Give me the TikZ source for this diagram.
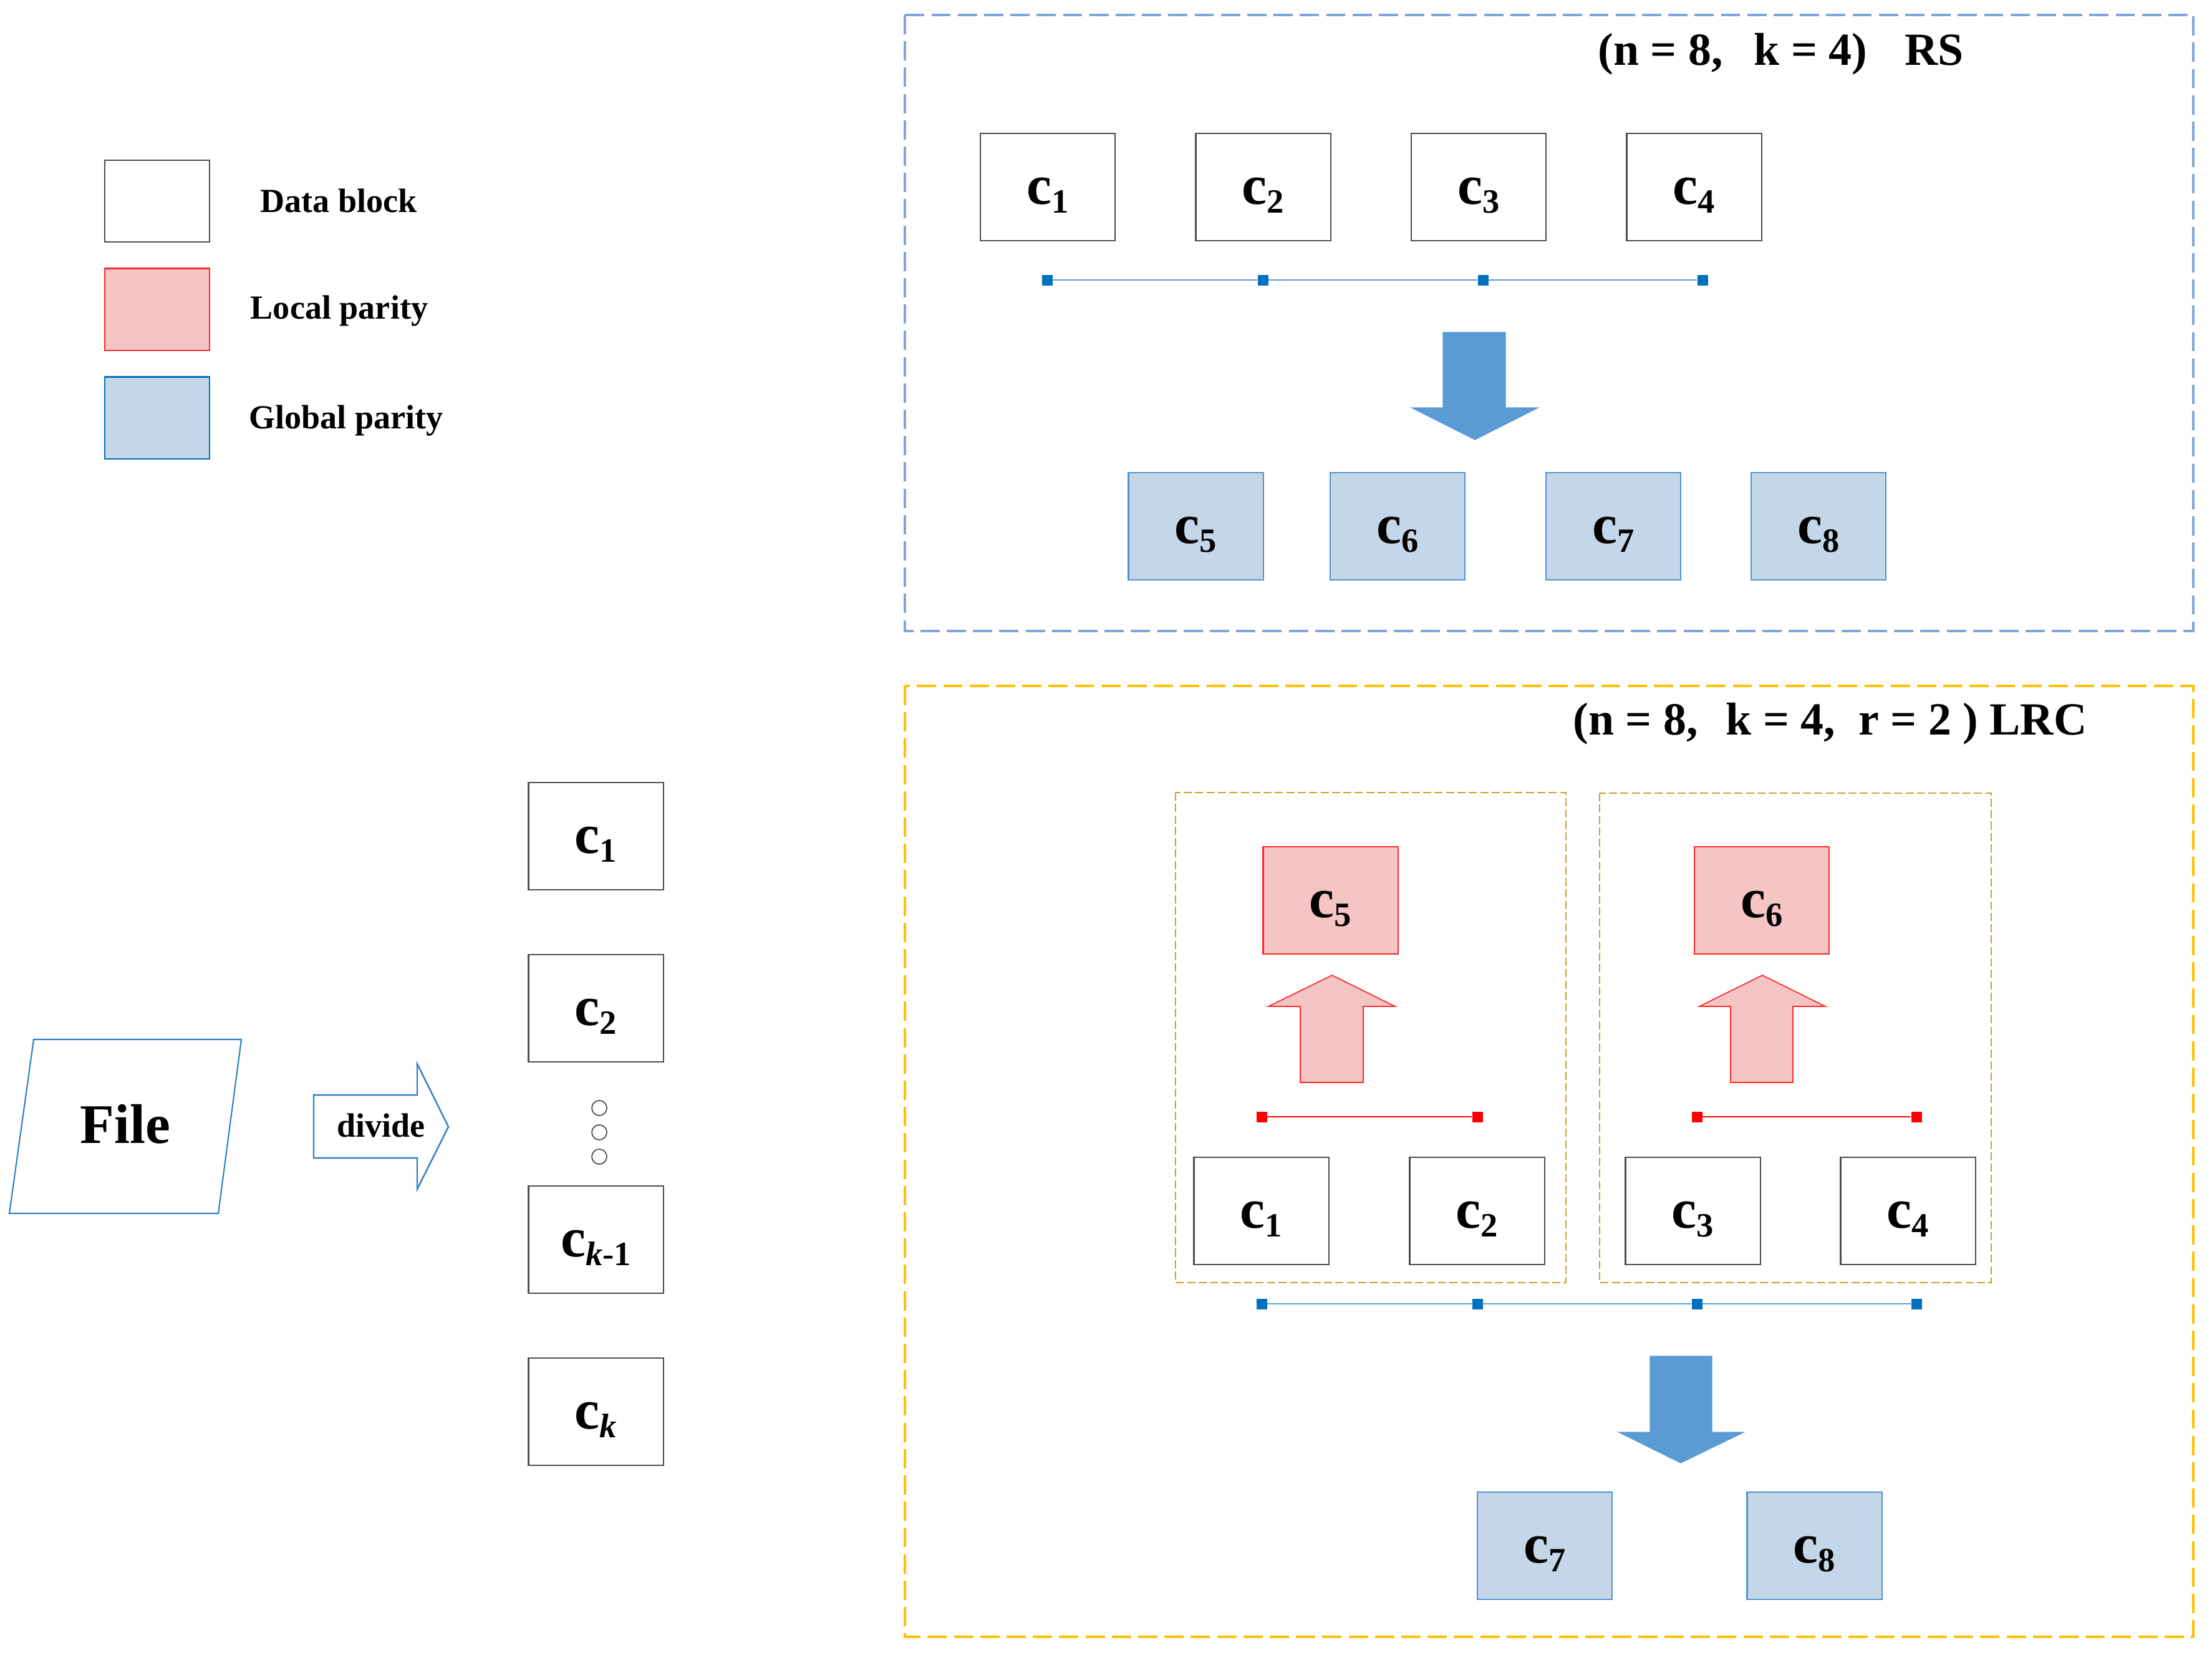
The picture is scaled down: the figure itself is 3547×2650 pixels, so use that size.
\documentclass[tikz,border=0pt]{standalone}
\usepackage{fontspec}
\setmainfont{Liberation Serif}
\definecolor{dgray}{HTML}{4D4D4D}
\definecolor{gfill}{HTML}{C3D7E8}
\definecolor{gbord}{HTML}{4F93D2}
\definecolor{lfill}{HTML}{F5C5C6}
\definecolor{lbord}{HTML}{FF2A2A}
\definecolor{barrow}{HTML}{5B9BD5}
\definecolor{sqblue}{HTML}{0070C0}
\definecolor{rsdash}{HTML}{7EA6D8}
\definecolor{lrcdash}{HTML}{FFC000}
\definecolor{indash}{HTML}{C9A227}
\definecolor{fileblue}{HTML}{2E7FC8}
\newcommand\csub[1]{c\raisebox{-0.145em}{\fontsize{15.5}{16}\selectfont #1}}
\begin{document}
\begin{tikzpicture}[x=0.01cm,y=-0.01cm,
  blk/.style={font=\fontsize{25.6}{30}\selectfont\bfseries, minimum width=2.16cm, minimum height=1.72cm,
    inner sep=0pt, text height=19.7pt, text depth=3.8pt, line width=0.6pt},
  dblk/.style={blk, draw=dgray, fill=white},
  gblk/.style={blk, draw=gbord, fill=gfill},
  lblk/.style={blk, draw=lbord, fill=lfill},
  legbox/.style={minimum width=1.68cm, minimum height=1.31cm, inner sep=0pt, line width=0.6pt},
  legtxt/.style={font=\fontsize{15.4}{18}\selectfont\bfseries, anchor=base, inner sep=0pt},
  ttl/.style={font=\fontsize{21}{25}\selectfont\bfseries, anchor=base west, inner sep=0pt},
  bsq/.style={fill=sqblue, minimum size=0.17cm, inner sep=0pt},
  rsq/.style={fill=red, minimum size=0.17cm, inner sep=0pt},
  bline/.style={draw=barrow, line width=0.6pt},
  rline/.style={draw=red, line width=0.6pt},
  outerdash/.style={line width=1.1pt, dash pattern=on 8.8pt off 3.2pt},
  innerdash/.style={draw=indash, line width=0.6pt, dash pattern=on 3.7pt off 1.5pt},
  bigdown/.style={fill=barrow, draw=barrow, line width=0.4pt},
  pinkup/.style={fill=lfill, draw=lbord, line width=0.5pt},
  dot/.style={circle, draw=dgray, line width=0.5pt, minimum size=0.24cm, inner sep=0pt}
]
\useasboundingbox (0,0) rectangle (3547,2650);

% ---------- Legend ----------
\node[legbox, draw=dgray, fill=white] (legD) at (252,322.5) {};
\node[legbox, draw=lbord, fill=lfill] (legL) at (252,496) {};
\node[legbox, draw=sqblue, fill=gfill] (legG) at (252,670) {};
\node[legtxt] (legDt) at (543,340) {Data block};
\node[legtxt] (legLt) at (544,511) {Local parity};
\node[legtxt] (legGt) at (555,687) {Global parity};

% ---------- File and divide ----------
\draw[draw=fileblue, line width=0.6pt, fill=white] (54,1667) -- (387,1667) -- (350,1946) -- (15,1946) -- cycle;
\node[font=\fontsize{25.5}{30}\selectfont\bfseries, anchor=base, inner sep=0pt] (file) at (201,1833) {File};
\draw[draw=fileblue, line width=0.7pt, fill=white] (503,1756) -- (669,1756) -- (669,1706) -- (719,1807)
  -- (669,1907) -- (669,1857) -- (503,1857) -- cycle;
\node[legtxt] (divide) at (611,1823) {divide};

\node[dblk] (L1) at (955.5,1341) {\csub{1}};
\node[dblk] (L2) at (955.5,1617) {\csub{2}};
\node[dot] (d1) at (961,1777) {};
\node[dot] (d2) at (961,1816) {};
\node[dot] (d3) at (961,1855) {};
\node[dblk] (Lk1) at (955.5,1988) {\csub{\textit{k}-1}};
\node[dblk] (Lk) at (955.5,2264) {\csub{\textit{k}}};

% ---------- RS ----------
\draw[outerdash, draw=rsdash] (1451,24) rectangle (3517,1012);
\node[ttl] (rsttl) at (2562,104) {(n = 8,\hspace{0.5cm}k = 4)\hspace{0.6cm}RS};
\node[dblk] (r1) at (1680,300) {\csub{1}};
\node[dblk] (r2) at (2025.5,300) {\csub{2}};
\node[dblk] (r3) at (2371,300) {\csub{3}};
\node[dblk] (r4) at (2716.5,300) {\csub{4}};
\node[bsq] (rq1) at (1679,449) {};
\node[bsq] (rq2) at (2025,449) {};
\node[bsq] (rq3) at (2378,449) {};
\node[bsq] (rq4) at (2730,449) {};
\draw[bline] (rq1) -- (rq2) -- (rq3) -- (rq4);
\draw[bigdown] (2314,533) -- (2414,533) -- (2414,654) -- (2466,654) -- (2365,705) -- (2264,654) -- (2314,654) -- cycle;
\node[gblk] (r5) at (1917.5,844) {\csub{5}};
\node[gblk] (r6) at (2241,844) {\csub{6}};
\node[gblk] (r7) at (2587,844) {\csub{7}};
\node[gblk] (r8) at (2916,844) {\csub{8}};

% ---------- LRC ----------
\draw[outerdash, draw=lrcdash] (1451,1100) rectangle (3517,2625);
\node[ttl] (lrcttl) at (2522,1178) {(n = 8,\hspace{0.45cm}k = 4,\hspace{0.37cm}r = 2 ) LRC};
\draw[innerdash] (1885,1271) rectangle (2511,2057);
\draw[innerdash] (2565,1272) rectangle (3193,2057);
\node[lblk] (l5) at (2133.5,1444) {\csub{5}};
\node[lblk] (l6) at (2825,1444) {\csub{6}};
\draw[pinkup] (2085,1736) -- (2085,1614) -- (2034,1614) -- (2136,1564) -- (2237,1614) -- (2186,1614) -- (2186,1736) -- cycle;
\draw[pinkup] (2775,1736) -- (2775,1614) -- (2725,1614) -- (2826,1564) -- (2927,1614) -- (2875,1614) -- (2875,1736) -- cycle;
\node[rsq] (lr1) at (2023,1791) {};
\node[rsq] (lr2) at (2369,1791) {};
\node[rsq] (lr3) at (2721,1791) {};
\node[rsq] (lr4) at (3073,1791) {};
\draw[rline] (lr1) -- (lr2);
\draw[rline] (lr3) -- (lr4);
\node[dblk] (l1) at (2022.5,1942) {\csub{1}};
\node[dblk] (l2) at (2368.5,1942) {\csub{2}};
\node[dblk] (l3) at (2714.5,1942) {\csub{3}};
\node[dblk] (l4) at (3059.5,1942) {\csub{4}};
\node[bsq] (lb1) at (2023,2091) {};
\node[bsq] (lb2) at (2369,2091) {};
\node[bsq] (lb3) at (2721,2091) {};
\node[bsq] (lb4) at (3073,2091) {};
\draw[bline] (lb1) -- (lb2) -- (lb3) -- (lb4);
\draw[bigdown] (2646,2175) -- (2745,2175) -- (2745,2297) -- (2796,2297) -- (2695,2346) -- (2596,2297) -- (2646,2297) -- cycle;
\node[gblk] (l7) at (2477,2479) {\csub{7}};
\node[gblk] (l8) at (2909.5,2479) {\csub{8}};
\end{tikzpicture}
\end{document}
